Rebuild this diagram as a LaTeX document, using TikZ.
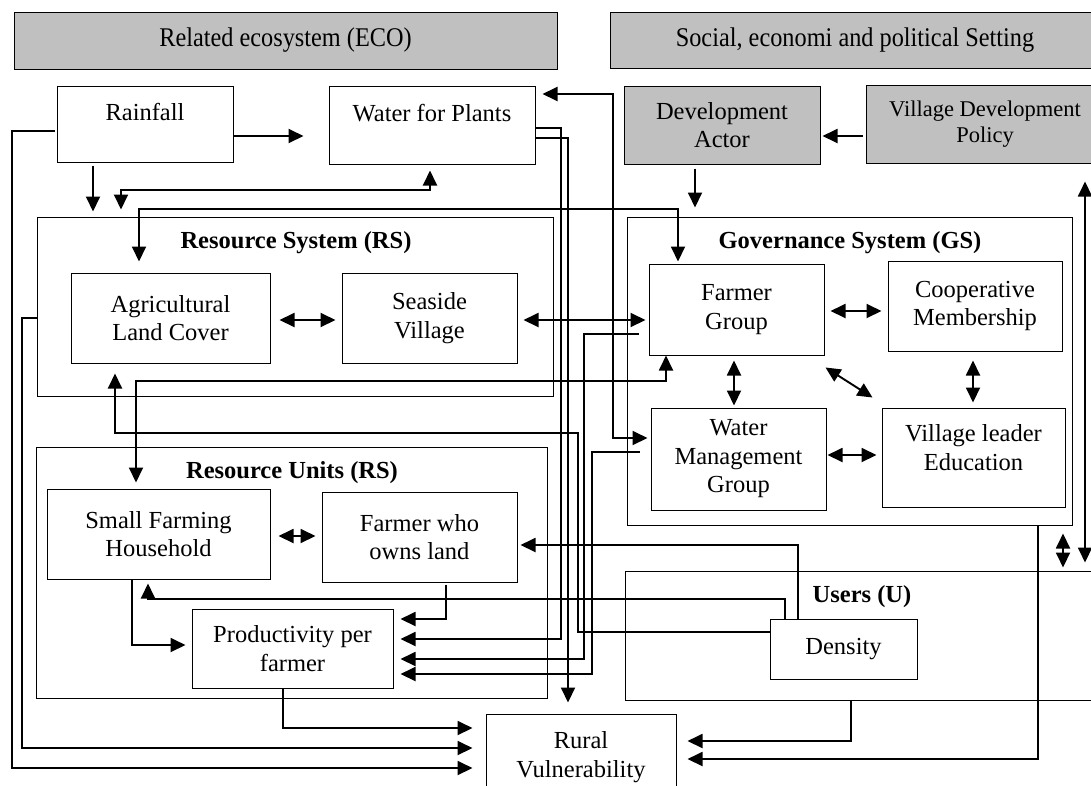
\documentclass[tikz,border=0pt]{standalone}
\usepackage{fontspec}
\setmainfont{Liberation Serif}
\usepackage{graphicx}
\usetikzlibrary{arrows.meta}
\definecolor{hdrgray}{RGB}{192,192,192}

\tikzset{
  box/.style={draw, line width=1pt, fill=white, inner sep=2pt, align=center,
    font=\fontsize{24.5}{28.5}\selectfont},
  grey/.style={box, fill=hdrgray},
  frame/.style={draw, line width=1pt, inner sep=0pt},
  hdr/.style={draw, line width=1pt, fill=hdrgray, inner sep=0pt,
    font=\fontsize{27}{32}\selectfont},
  title/.style={font=\fontsize{24.5}{28.5}\selectfont\bfseries},
  arr/.style={line width=1.9pt, -{Triangle[length=15pt,width=14pt]}},
  biarr/.style={line width=1.9pt,
    {Triangle[length=15pt,width=14pt]}-{Triangle[length=15pt,width=14pt]}}
}

\begin{document}
\begin{tikzpicture}[x=1pt, y=-1pt]
  \useasboundingbox (0,0) rectangle (1091,785);

  % setting headers
  \node[hdr, minimum width=543pt, minimum height=57pt] (eco) at (285.5,40.5)
    {\scalebox{0.9}[1]{Related ecosystem (ECO)}};
  \node[hdr, minimum width=490pt, minimum height=56pt] (soc) at (855,40)
    {\scalebox{0.9}[1]{Social, economi and political Setting}};

  % subsystems
  \node[frame, minimum width=516pt, minimum height=179pt] (rs) at (295,306.5) {};
  \node[frame, minimum width=445pt, minimum height=308pt] (gs) at (849.5,371) {};
  \node[frame, minimum width=511pt, minimum height=251pt] (ru) at (291.5,572.5) {};
  \node[frame, minimum width=475pt, minimum height=129pt] (users) at (862.5,635.5) {};

  \node[title] (rstitle) at (296,243) {Resource System (RS)};
  \node[title] (gstitle) at (850,243) {Governance System (GS)};
  \node[title] (rutitle) at (292,473) {Resource Units (RS)};
  \node[title] (utitle) at (862,597) {Users (U)};

  % variables
  \node[box, text depth=25pt, minimum width=176pt, minimum height=76pt] (rain) at (145,124) {Rainfall};
  \node[box, text depth=25pt, minimum width=206pt, minimum height=78pt] (water) at (432,125) {Water for Plants};
  \node[grey, minimum width=196pt, minimum height=78pt] (dev) at (722,125) {Development\\Actor};
  \node[grey, minimum width=238pt, minimum height=78pt, font=\fontsize{22.5}{26.5}\selectfont] (vdp) at (985,124) {Village Development\\Policy};

  \node[box, minimum width=199pt, minimum height=90pt] (agri) at (170.5,318) {Agricultural\\Land Cover};
  \node[box, minimum width=175pt, minimum height=90pt] (seaside) at (429.5,318) {Seaside\\Village};

  \node[box, minimum width=175pt, minimum height=91pt] (fg) at (736.5,309.5) {Farmer\\Group};
  \node[box, minimum width=174pt, minimum height=90pt] (coop) at (975,306) {Cooperative\\Membership};
  \node[box, minimum width=175pt, minimum height=102pt] (wmg) at (738.5,459) {Water\\Management\\Group};
  \node[box, text depth=20pt, minimum width=183pt, minimum height=99pt] (vle) at (973.5,457.5) {Village leader\\Education};

  \node[box, minimum width=223pt, minimum height=90pt] (sfh) at (158.5,534) {Small Farming\\Household};
  \node[box, minimum width=195pt, minimum height=90pt] (owner) at (419.5,537) {Farmer who\\owns land};
  \node[box, minimum width=201pt, minimum height=79pt] (prod) at (292.5,648.5) {Productivity per\\farmer};

  \node[box, minimum width=147pt, minimum height=60pt] (density) at (843.5,649) {Density};
  \node[box, minimum width=190pt, minimum height=86pt] (rural) at (581,757) {Rural\\Vulnerability};

  % links at the top
  \draw[arr, shorten >=25pt] (rain.east |- 0,136) -- (water.west |- 0,136);
  \draw[arr, shorten <=3pt, shorten >=5pt] (rain.south -| 93,0) -- (93,0 |- rs.north);
  \draw[biarr, shorten <=6pt, shorten >=7pt] (water.south -| 430,0) |- (121,190) -- (121,0 |- rs.north);
  \draw[biarr, shorten <=11pt, shorten >=2pt] (agri.north -| 139,0) |- (678,209) -- (678,0 |- fg.north);
  \draw[arr, shorten <=3pt, shorten >=2pt] (vdp.west |- 0,136) -- (dev.east |- 0,136);
  \draw[arr, shorten <=4pt, shorten >=9pt] (dev.south -| 695,0) -- (695,0 |- gs.north);

  % water for plants
  \draw[biarr, shorten <=7pt, shorten >=3pt] (water.east |- 0,94) -| (613,438) -- (wmg.west |- 0,438);
  \draw[arr, shorten >=7pt] (water.east |- 0,128) -| (561,639) -- (prod.east |- 0,639);
  \draw[arr, shorten >=11pt] (water.east |- 0,138) -| (568,0 |- rural.north);

  % inside the subsystems
  \draw[biarr, shorten <=9pt, shorten >=6pt] (agri.east |- 0,320) -- (seaside.west |- 0,320);
  \draw[biarr, shorten <=6pt, shorten >=3pt] (seaside.east |- 0,320) -- (fg.west |- 0,320);
  \draw[biarr, shorten <=6pt, shorten >=6pt] (fg.east |- 0,311) -- (coop.west |- 0,311);
  \draw[biarr, shorten <=5pt, shorten >=2pt] (fg.south -| 734,0) -- (734,0 |- wmg.north);
  \draw[biarr] ([shift={(1,12)}]fg.south east) -- ([shift={(-9,-10)}]vle.north west);
  \draw[biarr, shorten <=9pt, shorten >=5pt] (coop.south -| 973,0) -- (973,0 |- vle.north);
  \draw[biarr, shorten <=1pt, shorten >=5pt] (wmg.east |- 0,455) -- (vle.west |- 0,455);
  \draw[biarr, shorten <=8pt, shorten >=6pt] (sfh.east |- 0,536) -- (owner.west |- 0,536);

  % farmer group and water management group
  \draw[biarr, shorten >=6pt] (fg.south -| 666,0) |- (136,381) -- (136,0 |- sfh.north);
  \draw[arr, shorten <=10pt, shorten >=7pt] (fg.west |- 0,334) -| (584,659) -- (prod.east |- 0,659);
  \draw[arr, shorten <=11pt, shorten >=7pt] (wmg.west |- 0,452) -| (592,674) -- (prod.east |- 0,674);

  % productivity
  \draw[arr, shorten <=2pt, shorten >=7pt] (owner.south -| 446,0) |- (prod.east |- 0,619);
  \draw[arr, shorten >=6pt] (sfh.south -| 132,0) |- (prod.west |- 0,645);

  % density
  \draw[arr, shorten >=10pt] (density.west |- 0,632) -| (578,433) -| (115,0 |- agri.south);
  \draw[arr, shorten >=3pt] (density.north -| 798,0) |- (owner.east |- 0,545);
  \draw[arr, shorten >=4pt] (density.north -| 785,0) |- (148,599) -- (148,0 |- sfh.south);

  % rural vulnerability
  \draw[arr, shorten >=13pt] (prod.south -| 283,0) |- (rural.west |- 0,728);
  \draw[arr, shorten >=13pt] (rs.west |- 0,318) -| (22,748) -- (rural.west |- 0,748);
  \draw[arr, shorten <=2pt, shorten >=13pt] (rain.west |- 0,131) -| (12,768) -- (rural.west |- 0,768);
  \draw[arr, shorten >=11pt] (users.south -| 851,0) |- (rural.east |- 0,741);
  \draw[arr, shorten >=11pt] (gs.south -| 1038,0) |- (rural.east |- 0,759);

  % right side
  \draw[biarr, shorten <=8pt, shorten >=3pt] (gs.south -| 1063,0) -- (1063,0 |- users.north);
  \draw[biarr, shorten <=18pt, shorten >=8pt] (vdp.south -| 1085,0) -- (1085,0 |- users.north);
\end{tikzpicture}
\end{document}
